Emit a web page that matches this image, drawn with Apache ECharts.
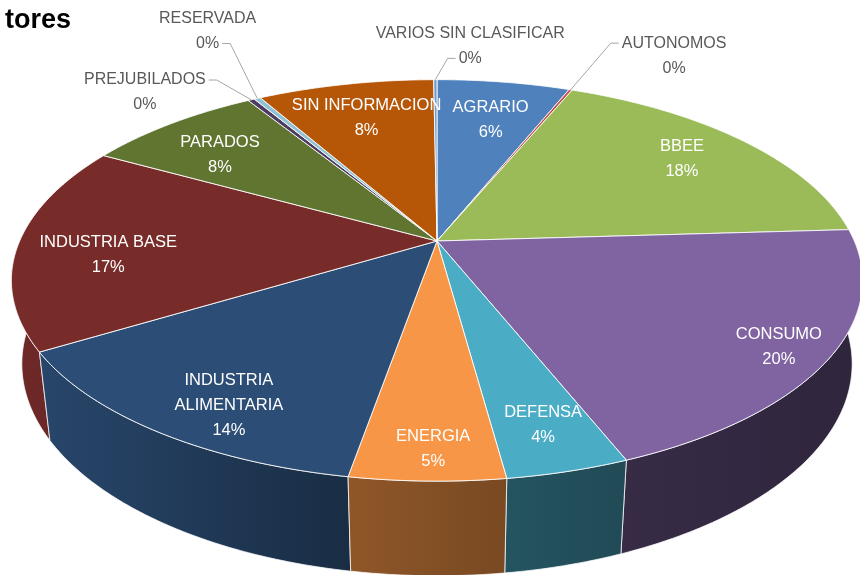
<!DOCTYPE html>
<html>
<head>
<meta charset="UTF-8">
<title>Sectores</title>
<script src="https://cdn.jsdelivr.net/npm/echarts@6/dist/echarts.min.js"></script>
<style>html,body{margin:0;padding:0;background:#fff;overflow:hidden}</style>
</head>
<body>
<div id="main" style="width:860px;height:575px;"></div>
<script type="text/javascript">
// datos (porcentaje por sector)
var sectores = ['AGRARIO', 'AUTONOMOS', 'BBEE', 'CONSUMO', 'DEFENSA', 'ENERGIA',
    'INDUSTRIA ALIMENTARIA', 'INDUSTRIA BASE', 'PARADOS', 'PREJUBILADOS', 'RESERVADA',
    'SIN INFORMACION', 'VARIOS SIN CLASIFICAR'];
var valores = [6.1, 0.15, 17.8, 19.9, 3.9, 4.9, 13.6, 16.7, 8.1, 0.3, 0.3, 8.1, 0.15];
var titulo = 'tores';

// estilo (paleta Office)
var colores = ['#4F81BD', '#C0504D', '#9BBB59', '#8064A2', '#4BACC6', '#F79646',
    '#2C4D75', '#772C2A', '#5F7530', '#4D3B62', '#8FC3D3', '#B65708', '#729ACA'];

// colocacion de etiquetas interiores: [desvio de angulo, radio]
var posDentro = [[0.6, 0.73], null, [-0.4, 0.79], [1.4, 0.89], [-0.2, 0.83], [-0.6, 0.89],
    [-4, 0.845], [-4.2, 0.78], [-3, 0.75], null, null, [0.3, 0.754], null];
// etiquetas fuera del pastel: [angulo, radio, linea a la que llega la guia]
var fueraPos = { 1: [30.6, 1.375, 0], 9: [317.7, 1.225, 0], 10: [333.2, 1.55, 1], 12: [4.5, 1.265, 1] };

// vista 3D (perspectiva)
var CX = 437, CY = 241, FX = 1878, FY = 1850, D0 = 4.5, H = 0.232;
var TILT = 28 * Math.PI / 180, S = Math.sin(TILT), C = Math.cos(TILT);

var total = valores.reduce(function (a, b) { return a + b; }, 0);
var inicio = [], fin = [];
var acc = 0;
valores.forEach(function (v, i) {
    inicio.push(acc / total * 360);
    acc += v;
    fin.push(acc / total * 360);
});

function proyectar(ang, r, z) {
    var a = ang * Math.PI / 180;
    var X = r * Math.sin(a), Y = -r * Math.cos(a);
    var yc = Y * S - z * C, zc = D0 - Y * C - z * S;
    return [CX + FX * X / zc, CY + FY * yc / zc];
}

function arco(a0, a1, z) {
    var n = Math.max(2, Math.ceil(Math.abs(a1 - a0) / 0.5));
    var pts = [];
    for (var k = 0; k <= n; k++) {
        pts.push(proyectar(a0 + (a1 - a0) * k / n, 1, z));
    }
    return pts;
}

function sombra(hex, ang) {
    var t = Math.min(1, Math.max(0, (ang - 130) / 110));
    var f = 0.37 + 0.55 * Math.pow(t, 1.6);
    var r = parseInt(hex.substr(1, 2), 16), g = parseInt(hex.substr(3, 2), 16), b = parseInt(hex.substr(5, 2), 16);
    return 'rgb(' + Math.round(r * f) + ',' + Math.round(g * f) + ',' + Math.round(b * f) + ')';
}

var ctx = document.createElement('canvas').getContext('2d');
function ancho(txt, size) {
    ctx.font = size + 'px "Liberation Sans"';
    return ctx.measureText(txt).width;
}

function textoEtiqueta(i, dentro) {
    var nombre = sectores[i];
    if (dentro && nombre.length > 16) {
        var p = nombre.lastIndexOf(' ');
        nombre = nombre.substr(0, p) + '\n' + nombre.substr(p + 1);
    }
    return nombre + '\n' + Math.round(valores[i] / total * 100) + '%';
}

var myChart = echarts.init(document.getElementById('main'));

var option = {
    animation: false,
    title: {
        text: titulo,
        left: 0,
        top: 2,
        textStyle: { fontSize: 27, fontWeight: 'bold', color: '#000', fontFamily: 'Liberation Sans' }
    },
    series: [
        {
            // paredes laterales
            type: 'custom',
            coordinateSystem: 'none',
            silent: true,
            z: 1,
            data: valores,
            renderItem: function (params, api) {
                var i = params.dataIndex;
                var a0 = Math.max(inicio[i], 90), a1 = Math.min(fin[i], 270);
                if (a1 <= a0) return { type: 'group', children: [] };
                var pts = arco(a0, a1, 0).concat(arco(a1, a0, -H));
                var xs = pts.map(function (p) { return p[0]; });
                var minX = Math.min.apply(null, xs), maxX = Math.max.apply(null, xs);
                var m = (a0 + a1) / 2;
                return {
                    type: 'polygon',
                    z2: Math.round(100 - Math.cos(m * Math.PI / 180) * 100),
                    shape: { points: pts },
                    style: {
                        fill: {
                            type: 'linear', x: minX, y: 0, x2: maxX + 0.01, y2: 0, global: true,
                            colorStops: [
                                { offset: 0, color: sombra(colores[i], a1) },
                                { offset: 1, color: sombra(colores[i], a0) }
                            ]
                        },
                        stroke: 'rgba(255,255,255,0.75)',
                        lineWidth: 1
                    }
                };
            }
        },
        {
            // caras superiores
            type: 'custom',
            coordinateSystem: 'none',
            silent: true,
            z: 2,
            data: valores,
            renderItem: function (params, api) {
                var i = params.dataIndex;
                var pts = [proyectar(0, 0, 0)].concat(arco(inicio[i], fin[i], 0));
                return {
                    type: 'polygon',
                    shape: { points: pts },
                    style: { fill: colores[i], stroke: 'rgba(255,255,255,0.85)', lineWidth: 1 }
                };
            }
        },
        {
            // etiquetas
            type: 'custom',
            coordinateSystem: 'none',
            silent: true,
            z: 3,
            data: valores,
            renderItem: function (params, api) {
                var i = params.dataIndex;
                var mid = (inicio[i] + fin[i]) / 2;
                var lh = 25;
                if (fueraPos[i]) {
                    var lay = fueraPos[i];
                    var size = 16;
                    var txt = textoEtiqueta(i, false);
                    var L = proyectar(lay[0], lay[1], 0);
                    var borde = proyectar(mid, 1, 0);
                    var lineas = txt.split('\n');
                    var ly = L[1] + (lay[2] - (lineas.length - 1) / 2) * lh;
                    var w = ancho(lineas[lay[2]], size);
                    var fx, ex;
                    if (L[0] > borde[0]) { fx = L[0] - w / 2 - 3; ex = fx - 8; }
                    else { fx = L[0] + w / 2 + 3; ex = fx + 8; }
                    return {
                        type: 'group',
                        children: [
                            {
                                type: 'polyline',
                                shape: { points: [borde, [ex, ly], [fx, ly]] },
                                style: { stroke: '#A6A6A6', lineWidth: 1, fill: null }
                            },
                            {
                                type: 'text',
                                x: L[0], y: L[1],
                                style: {
                                    text: txt, fill: '#595959', fontSize: size, fontFamily: 'Liberation Sans',
                                    align: 'center', verticalAlign: 'middle', lineHeight: lh
                                }
                            }
                        ]
                    };
                }
                var pd = posDentro[i] || [0, 0.8];
                var P = proyectar(mid + pd[0], pd[1], 0);
                return {
                    type: 'text',
                    x: P[0], y: P[1],
                    style: {
                        text: textoEtiqueta(i, true), fill: '#FFFFFF', fontSize: 16.5, fontFamily: 'Liberation Sans',
                        align: 'center', verticalAlign: 'middle', lineHeight: lh
                    }
                };
            }
        }
    ]
};

myChart.setOption(option);
</script>
</body>
</html>
